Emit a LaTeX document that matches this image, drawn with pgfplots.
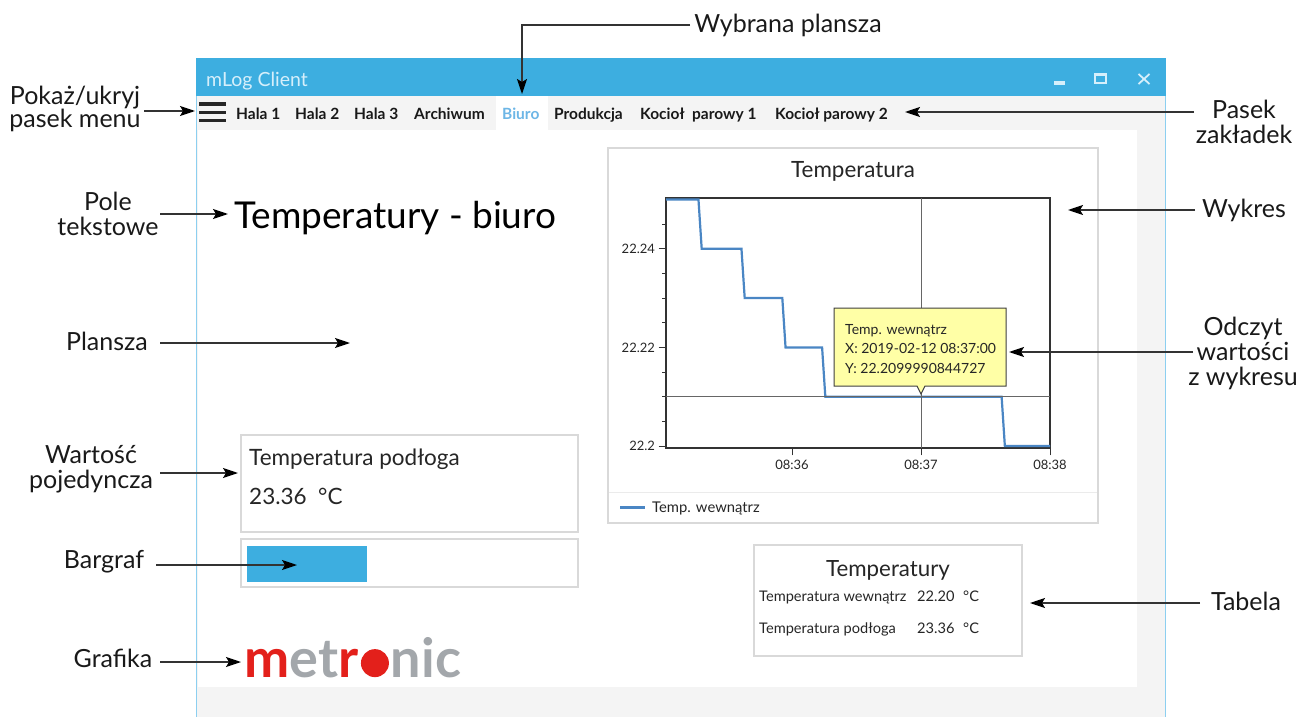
\documentclass[border=0pt]{standalone}
\usepackage{pgfplots}
\pgfplotsset{compat=1.18}
\usepackage{fontspec}
\setmainfont{Lato}
\usetikzlibrary{arrows.meta}
\definecolor{titlebar}{HTML}{3DAEE0}
\definecolor{winborder}{HTML}{8CCFF0}
\definecolor{bodybg}{HTML}{F4F4F4}
\definecolor{boxborder}{HTML}{D9D9D9}
\definecolor{linecol}{HTML}{4A86C4}
\definecolor{tipbg}{HTML}{FFFFA6}
\definecolor{tabblue}{HTML}{6DB6E6}
\definecolor{mred}{HTML}{E3201B}
\definecolor{mgray}{HTML}{A3A7AB}
\definecolor{titletext}{HTML}{D6EFFB}
\definecolor{annline}{HTML}{333333}
\newcommand\fs[1]{\fontsize{#1}{#1}\selectfont}
\tikzset{ann/.style={annline, line width=1.4pt, -{Stealth[length=15pt,width=10pt,inset=3pt,black]}},
  lbl/.style={anchor=base, inner sep=0pt, font=\fs{25}, text=black!90}}
\begin{document}
\begin{tikzpicture}
\useasboundingbox (0pt,0pt) rectangle (1310pt,-717pt);
\begin{scope}[x=1pt,y=-1pt]
% window
\fill[bodybg] (196,96) rectangle (1166,717);
\fill[titlebar] (196,58) rectangle (1166,96);
\draw[winborder, line width=1.2pt] (196.6,96) -- (196.6,717);
\draw[winborder, line width=1.2pt] (1165.4,96) -- (1165.4,717);
\fill[white] (198,130) rectangle (1137,687);
\fill[white] (496,96) rectangle (548,130);
\node[anchor=base west, inner sep=0pt, font=\fs{19.5}, text=titletext] at (206,86) {mLog Client};
% window buttons
\fill[titletext] (1054,81) rectangle (1065,85);
\draw[titletext, line width=1.3pt] (1095,73.5) rectangle (1106,83);
\fill[titletext] (1095,73) rectangle (1106,76);
\draw[titletext, line width=1.8pt] (1138.5,74) -- (1149.5,84) (1138.5,84) -- (1149.5,74);
% hamburger
\fill[black!85] (199,102.5) rectangle (226,105.5);
\fill[black!85] (199,110.8) rectangle (226,113.8);
\fill[black!85] (199,119) rectangle (226,122);
% tabs
\begin{scope}[every node/.style={anchor=base west, inner sep=0pt, font=\fs{15.5}\bfseries, text=black!90}]
\node at (236,119.5) {Hala 1};
\node at (295,119.5) {Hala 2};
\node at (354,119.5) {Hala 3};
\node at (414,119.5) {Archiwum};
\node[text=tabblue] at (502,119.5) {Biuro};
\node at (554,119.5) {Produkcja};
\node at (640,119.5) {Kocioł\ \ parowy 1};
\node at (775,119.5) {Kocioł parowy 2};
\end{scope}
% text field
\node[anchor=base west, inner sep=0pt, font=\fs{37}, text=black] at (234,228) {Temperatury - biuro};
% single value box
\draw[boxborder, line width=1.3pt] (241,435) rectangle (578,532);
\node[anchor=base west, inner sep=0pt, font=\fs{22.5}, text=black!85] at (249,465) {Temperatura podłoga};
\node[anchor=base west, inner sep=0pt, font=\fs{22.5}, text=black!85] at (249,504) {23.36\ \ °C};
% bargraph
\draw[boxborder, line width=1.3pt] (241,539) rectangle (578,587);
\fill[titlebar] (247,546) rectangle (367,582);
% table
\draw[boxborder, line width=1.3pt] (754,545) rectangle (1022,656);
\node[anchor=base, inner sep=0pt, font=\fs{22.3}, text=black!85] at (888,576) {Temperatury};
\begin{scope}[every node/.style={anchor=base west, inner sep=0pt, font=\fs{14.6}, text=black!85}]
\node at (759,601.5) {Temperatura wewnątrz};
\node at (917,601.5) {22.20};
\node at (963,601.5) {°C};
\node at (759,633.5) {Temperatura podłoga};
\node at (917,633.5) {23.36};
\node at (963,633.5) {°C};
\end{scope}
% logo
\begin{scope}[every node/.style={anchor=base west, inner sep=0pt, font=\fs{54}\bfseries}]
\node[text=mred] (m1) at (244,677) {m};
\node[text=mgray] (m2) at (m1.base east) {et};
\node[text=mred] (m3) at (m2.base east) {r};
\node (m4) at (m3.base east) {\phantom{o}};
\node[text=mgray] (m5) at (m4.base east) {nic};
\end{scope}
\fill[mred] (m4.center) circle (14);
% chart panel
\fill[white] (608,148) rectangle (1098,523);
\draw[boxborder, line width=1.2pt] (608,148) rectangle (1098,523);
\draw[black!8, line width=1pt] (609,492) -- (1097,492);
\node[anchor=base, inner sep=0pt, font=\fs{22.4}, text=black!85] at (853,177) {Temperatura};
\draw[linecol, line width=3pt] (620,507) -- (645,507);
\node[anchor=base west, inner sep=0pt, font=\fs{14.8}, text=black!85] at (652,512.5) {Temp. wewnątrz};
\end{scope}

\begin{axis}[
  at={(666pt,-448pt)}, anchor=south west,
  width=384pt, height=250pt, scale only axis,
  xmin=1.4, xmax=180, ymin=22.1996, ymax=22.2503,
  axis line style={draw=black!80, line width=1.1pt},
  xtick={60,120,180}, xticklabels={08:36,08:37,08:38},
  ytick={22.2,22.22,22.24}, yticklabels={22.2,22.22,22.24},
  minor ytick={22.205,22.21,22.215,22.225,22.23,22.235,22.245},
  xtick pos=bottom, ytick pos=left,
  tick align=outside, major tick length=7.5pt, minor tick length=4pt,
  every tick/.style={black!80, line width=0.9pt},
  tick label style={font=\fs{13}, text=black!85},
  xticklabel style={yshift=-1pt},
  yticklabel style={xshift=0pt},
]
\addplot[linecol, line width=2.2pt] coordinates {
(1.4,22.25) (16.5,22.25) (18,22.24) (36.5,22.24) (38,22.23) (55.5,22.23)
(57,22.22) (74,22.22) (75.5,22.21) (157.5,22.21) (159,22.20) (180,22.20)};
\draw[black!60, line width=0.8pt] (axis cs:120,22.1996) -- (axis cs:120,22.2503);
\draw[black!60, line width=0.8pt] (axis cs:1.4,22.21) -- (axis cs:180,22.21);
\end{axis}

\begin{scope}[x=1pt,y=-1pt]
% tooltip
\filldraw[fill=tipbg, draw=black!75, line width=1pt] (834,308) -- (1006,308) -- (1006,386) -- (925,386) -- (921,394) -- (917,386) -- (834,386) -- cycle;
\begin{scope}[every node/.style={anchor=base west, inner sep=0pt, font=\fs{14}, text=black!85}]
\node at (845,334) {Temp. wewnątrz};
\node at (845,353) {X: 2019-02-12 08:37:00};
\node at (845,373) {Y: 22.2099990844727};
\end{scope}
% annotations
\node[lbl] at (788,33) {Wybrana plansza};
\draw[ann] (690,25) -- (522,25) -- (522,94);
\node[lbl] at (75,104) {Pokaż/ukryj};
\node[lbl] at (75,128) {pasek menu};
\draw[ann] (144,111) -- (195,111);
\node[lbl] at (108,210) {Pole};
\node[lbl] at (108,235) {tekstowe};
\draw[ann] (160,214) -- (228,214);
\node[lbl] at (107,350) {Plansza};
\draw[ann] (160,343) -- (350,343);
\node[lbl] at (91,463) {Wartość};
\node[lbl] at (91,488) {pojedyncza};
\draw[ann] (160,473) -- (238,473);
\node[lbl] at (104,568) {Bargraf};
\draw[ann] (156,565) -- (297,565);
\node[lbl] at (113,667) {Grafika};
\draw[ann] (160,662) -- (241,662);
\node[lbl] at (1244,118) {Pasek};
\node[lbl] at (1244,143) {zakładek};
\draw[ann] (1194,112) -- (905,112);
\node[lbl] at (1244,217) {Wykres};
\draw[ann] (1195,210) -- (1068,210);
\node[lbl] at (1243,335) {Odczyt};
\node[lbl] at (1243,360) {wartości};
\node[lbl] at (1243,385) {z wykresu};
\draw[ann] (1193,352) -- (1009,352);
\node[lbl] at (1246,610) {Tabela};
\draw[ann] (1200,603) -- (1030,603);
\end{scope}
\end{tikzpicture}
\end{document}
